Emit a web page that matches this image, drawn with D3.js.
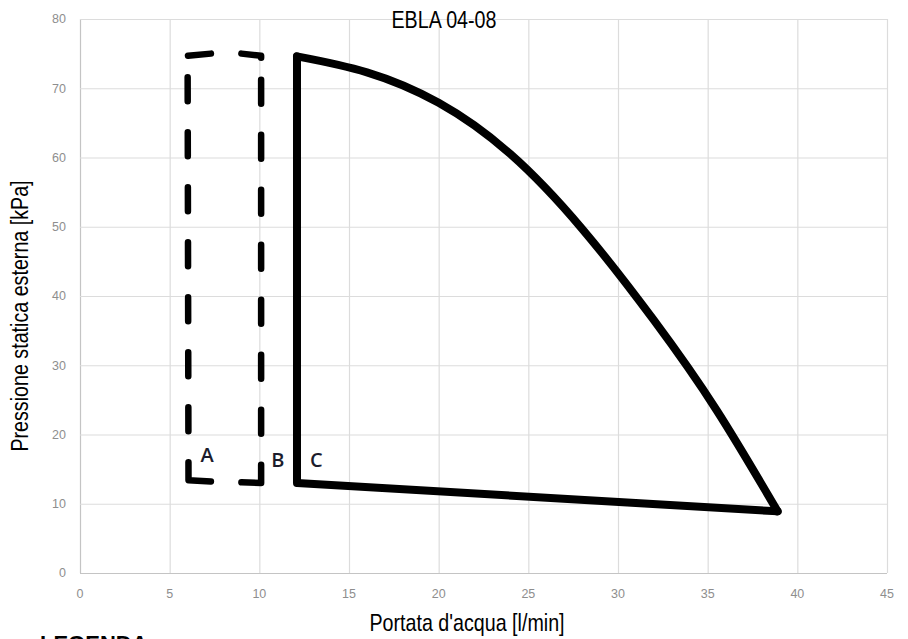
<!DOCTYPE html>
<html><head><meta charset="utf-8">
<script src="https://cdn.jsdelivr.net/npm/d3@7"></script>
<style>body{margin:0;background:#fff}svg{display:block}</style>
</head><body><svg id="c" width="908" height="639"></svg>
<script>
// ---- data ----
const chartTitle = "EBLA 04-08";
const xTitle = "Portata d'acqua [l/min]";
const yTitle = "Pressione statica esterna [kPa]";
const legendTitle = "LEGENDA";
const xTicks = [0, 5, 10, 15, 20, 25, 30, 35, 40, 45];
const yTicks = [0, 10, 20, 30, 40, 50, 60, 70, 80];

// A: dashed outline (left)
const aX = [7.3, 6.0, 6.05, 7.3];
const aY = [75.0, 74.7, 13.4, 13.2];
// B: dashed outline (right)
const bX = [9.0, 10.1, 10.1, 9.0];
const bY = [75.0, 74.7, 13.0, 13.1];
// C: solid – bottom line and vertical
const cEdgeX = [38.9, 12.1, 12.1];
const cEdgeY = [8.9, 13.0, 74.6];
// C: solid – upper curve
const cCurveX = [12.1, 16, 20, 24, 28, 32, 35.5, 38.9];
const cCurveY = [74.6, 72.3, 67.9, 60.5, 49.7, 36.5, 23.5, 8.9];

const seriesLabels = ["A", "B", "C"];

// ---- layout ----
const svg = d3.select("#c");
const x = d3.scaleLinear().domain([0, 45]).range([80, 887]);
const y = d3.scaleLinear().domain([0, 80]).range([573, 19]);

const narrow = "'Liberation Sans Narrow','Arial Narrow',sans-serif";

// grid
const gx = svg.append("g").attr("transform", `translate(0,${y(0)})`)
  .call(d3.axisBottom(x).tickValues(xTicks).tickSize(-(y(0) - y(80))).tickFormat(""));
gx.select(".domain").remove();
gx.selectAll(".tick line").attr("stroke", d => d === 0 ? "#c4c4c4" : "#dcdcdc").attr("stroke-width", 1.2);

const gy = svg.append("g").attr("transform", `translate(${x(0)},0)`)
  .call(d3.axisLeft(y).tickValues(yTicks).tickSize(-(x(45) - x(0))).tickFormat(""));
gy.select(".domain").remove();
gy.selectAll(".tick line").attr("stroke", d => d === 0 ? "#c4c4c4" : "#dcdcdc").attr("stroke-width", 1.2);

// tick labels
svg.append("g").selectAll("text").data(xTicks).join("text")
  .attr("x", d => x(d)).attr("y", 598)
  .attr("text-anchor", "middle")
  .attr("font-family", "'Liberation Sans',Arial,sans-serif").attr("font-size", 12.5)
  .attr("fill", "#8e8e8e").text(d => d);
svg.append("g").selectAll("text").data(yTicks).join("text")
  .attr("x", 66).attr("y", d => y(d)).attr("dy", "0.35em")
  .attr("text-anchor", "end")
  .attr("font-family", "'Liberation Sans',Arial,sans-serif").attr("font-size", 12.5)
  .attr("fill", "#8e8e8e").text(d => d);

// series
const toPts = (xs, ys) => xs.map((v, i) => [x(v), y(ys[i])]);
const lin = d3.line();
const smooth = d3.line().curve(d3.curveNatural);

function dashPattern(len, first, gap1, dash, gap, n) {
  const arr = [first, gap1];
  for (let i = 0; i < n; i++) arr.push(dash, gap);
  arr.push(len + 20, 20);
  return arr.join(" ");
}

[[aX, aY, 23], [bX, bY, 22]].forEach(([xs, ys, first]) => {
  const p = svg.append("path").attr("d", lin(toPts(xs, ys)))
    .attr("fill", "none").attr("stroke", "#000").attr("stroke-width", 6.5)
    .attr("stroke-linecap", "round").attr("stroke-linejoin", "round");
  const L = p.node().getTotalLength();
  p.attr("stroke-dasharray", dashPattern(L, first, 22, 24, 31, 7));
});

svg.append("path").attr("d", lin(toPts(cEdgeX, cEdgeY)))
  .attr("fill", "none").attr("stroke", "#000").attr("stroke-width", 8)
  .attr("stroke-linecap", "round").attr("stroke-linejoin", "round");
svg.append("path").attr("d", smooth(toPts(cCurveX, cCurveY)))
  .attr("fill", "none").attr("stroke", "#000").attr("stroke-width", 8)
  .attr("stroke-linecap", "round").attr("stroke-linejoin", "round");

// series labels anchored at bottom corners
const anchors = [[aX[2], aY[2], 12, -18], [bX[2], bY[2], 10, -16], [cEdgeX[1], cEdgeY[1], 13, -16]];
svg.append("g").selectAll("text").data(seriesLabels).join("text")
  .attr("x", (d, i) => x(anchors[i][0]) + anchors[i][2])
  .attr("y", (d, i) => y(anchors[i][1]) + anchors[i][3])
  .attr("font-family", "'Open Sans',sans-serif").attr("font-weight", 600)
  .attr("font-size", 20).attr("fill", "#1c1c2c").text(d => d);

// titles (narrow font; fallback by horizontal squeeze)
function narrowText(sel, cx, cy, rot, str, size) {
  const g = sel.append("g").attr("transform", `translate(${cx},${cy}) rotate(${rot})`);
  const t = g.append("text").attr("text-anchor", "middle")
    .attr("font-family", narrow).attr("font-size", size).attr("fill", "#000").text(str);
  const probe = sel.append("text").attr("font-family", "'Liberation Sans',Arial,sans-serif")
    .attr("font-size", size).text(str);
  const w = t.node().getComputedTextLength(), w0 = probe.node().getComputedTextLength();
  probe.remove();
  if (w / w0 > 0.9) t.attr("transform", "scale(0.82,1)");
  return t;
}
narrowText(svg, 444, 28, 0, chartTitle, 24);
narrowText(svg, 467, 631, 0, xTitle, 24);
narrowText(svg, 28, 316, -90, yTitle, 24);

svg.append("text").attr("x", 40).attr("y", 651)
  .attr("font-family", "'Liberation Sans',Arial,sans-serif").attr("font-weight", "bold")
  .attr("font-size", 22).attr("fill", "#000").text(legendTitle);
</script></body></html>
